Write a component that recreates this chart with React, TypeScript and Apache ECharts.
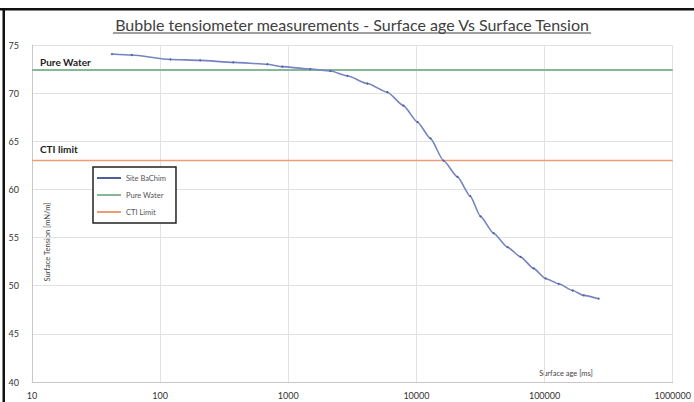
import React, { useEffect, useRef } from "react";
import * as echarts from "echarts";

const surfaceAge = [42, 60, 120, 205, 372, 685, 898, 1485, 2130, 2890, 4140, 5930, 7910, 10180, 12860, 16250, 20900, 26300, 31600, 40000, 51400, 64900, 82000, 101800, 128600, 165500, 201800, 264000];
const surfaceTension = [74.06, 73.96, 73.5, 73.4, 73.2, 73.0, 72.75, 72.5, 72.3, 71.8, 71.0, 70.1, 68.7, 67.0, 65.3, 63.0, 61.3, 59.3, 57.2, 55.45, 54.0, 53.0, 51.8, 50.75, 50.2, 49.5, 49.0, 48.65];
const pureWaterValue = 72.4;
const ctiLimitValue = 63;
const xRange = [10, 1000000];
const seriesNames = ["Site BaChim", "Pure Water", "CTI Limit"];
const titleText = "Bubble tensiometer measurements - Surface age Vs Surface Tension";

const FONT = "Lato";

export default function App() {
  const ref = useRef<HTMLDivElement>(null);
  useEffect(() => {
    if (!ref.current) return;
    const chart = echarts.init(ref.current, undefined, { renderer: "svg" });
    chart.setOption({
      animation: false,
      backgroundColor: "#ffffff",
      textStyle: { fontFamily: FONT },
      grid: { left: 32, right: 20, top: 45, bottom: 20 },
      legend: {
        orient: "vertical",
        left: 93,
        top: 167,
        width: 81,
        data: seriesNames,
        itemWidth: 24,
        itemHeight: 2,
        itemGap: 9,
        padding: [7, 10, 7, 4],
        borderColor: "#222222",
        borderWidth: 1.5,
        backgroundColor: "#ffffff",
        textStyle: { fontSize: 7.5, color: "#555", fontFamily: FONT },
        icon: "rect",
      },
      xAxis: {
        type: "log",
        logBase: 10,
        min: xRange[0],
        max: xRange[1],
        axisLine: { show: true, lineStyle: { color: "#c8c8c8", width: 1 } },
        axisTick: { show: false },
        axisLabel: { fontSize: 9, color: "#333", margin: 9, fontFamily: FONT, formatter: (v: number) => String(Math.round(v)) },
        splitLine: { show: true, lineStyle: { color: "#e2e2e2", width: 1 } },
        minorTick: { show: false },
      },
      yAxis: {
        type: "value",
        min: 40,
        max: 75,
        interval: 5,
        axisLine: { show: true, lineStyle: { color: "#c8c8c8", width: 1 } },
        axisTick: { show: false },
        axisLabel: { fontSize: 9, color: "#333", margin: 13, fontFamily: FONT },
        splitLine: { show: true, lineStyle: { color: "#e2e2e2", width: 1 } },
      },
      series: [
        {
          name: seriesNames[0],
          type: "line",
          smooth: 0.2,
          smoothMonotone: "x",
          data: surfaceAge.map((a, i) => [a, surfaceTension[i]]),
          symbol: "circle",
          symbolSize: 2,
          itemStyle: { color: "#4f5f9e" },
          lineStyle: { color: "#7484c2", width: 1.6 },
          z: 5,
        },
        {
          name: seriesNames[1],
          type: "line",
          data: [[xRange[0], pureWaterValue], [xRange[1], pureWaterValue]],
          symbol: "none",
          itemStyle: { color: "#86b896" },
          lineStyle: { color: "#86b896", width: 2 },
          z: 3,
        },
        {
          name: seriesNames[2],
          type: "line",
          data: [[xRange[0], ctiLimitValue], [xRange[1], ctiLimitValue]],
          symbol: "none",
          itemStyle: { color: "#f19a78" },
          lineStyle: { color: "#f19a78", width: 1.6 },
          z: 3,
        },
      ],
      graphic: [
        { type: "rect", shape: { x: 0, y: 8, width: 694, height: 2.5 }, style: { fill: "#111" } },
        { type: "rect", shape: { x: 2.5, y: 8, width: 2.5, height: 394 }, style: { fill: "#111" } },
        {
          type: "text",
          x: 352,
          y: 24,
          style: {
            text: titleText,
            fontSize: 16,
            fontFamily: FONT,
            fill: "#404040",
            textAlign: "center",
            textVerticalAlign: "middle",
          },
        },
        { type: "line", shape: { x1: 113, y1: 33, x2: 591, y2: 33 }, style: { stroke: "#404040", lineWidth: 1 } },
        {
          type: "text",
          x: 40,
          y: 62,
          style: { text: "Pure Water", fontSize: 10, fontWeight: "bold", fontFamily: FONT, fill: "#222", textVerticalAlign: "middle" },
        },
        {
          type: "text",
          x: 40,
          y: 149,
          style: { text: "CTI limit", fontSize: 10, fontWeight: "bold", fontFamily: FONT, fill: "#222", textVerticalAlign: "middle" },
        },
        {
          type: "text",
          x: 47,
          y: 242,
          rotation: Math.PI / 2,
          style: { text: "Surface Tension [mN/m]", fontSize: 7.5, fontFamily: FONT, fill: "#444", textAlign: "center", textVerticalAlign: "middle" },
        },
        {
          type: "text",
          x: 566,
          y: 373,
          style: { text: "Surface age [ms]", fontSize: 7.5, fontFamily: FONT, fill: "#444", textAlign: "center", textVerticalAlign: "middle" },
        },
      ],
    });
    return () => chart.dispose();
  }, []);
  return <div ref={ref} style={{ position: "absolute", left: 0, top: 0, width: 694, height: 402 }} />;
}
